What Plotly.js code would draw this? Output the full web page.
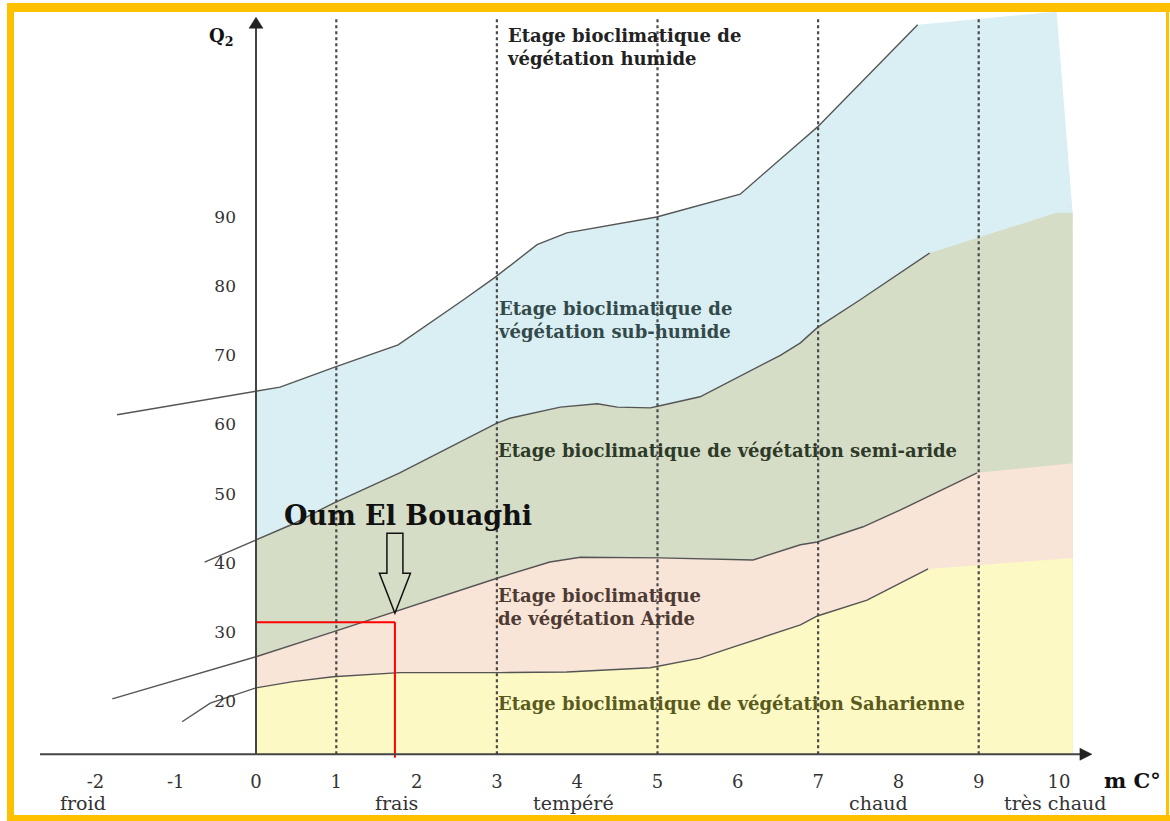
<!DOCTYPE html>
<html>
<head>
<meta charset="utf-8">
<script src="https://cdn.plot.ly/plotly-3.0.1.min.js"></script>
<style>
  html, body { margin: 0; padding: 0; background: #ffffff; }
  #chart { width: 1170px; height: 821px; }
</style>
</head>
<body>
<div id="chart"></div>
<script>
// ---------- DATA ----------
const mTicks = [-2, -1, 0, 1, 2, 3, 4, 5, 6, 7, 8, 9, 10];
const q2Ticks = [20, 30, 40, 50, 60, 70, 80, 90];
const thermalLimits = [1, 3, 5, 7, 9];
const thermalClasses = ['froid', 'frais', 'tempéré', 'chaud', 'très chaud'];
const thermalClassM = [-2.15, 1.75, 3.95, 7.75, 9.95];

// Limit humide / sub-humide
const humideM  = [-1.73, 0, 0.30, 0.98, 1.77, 2.58, 2.98, 3.50, 3.87, 4.99, 6.03, 6.78, 6.99, 8.24];
const humideQ2 = [61.4, 64.8, 65.4, 68.3, 71.5, 78.0, 81.3, 86.0, 87.7, 90.0, 93.3, 100.9, 103.0, 117.8];
// Limit sub-humide / semi-aride
const subHumideM  = [-0.64, 0, 0.46, 0.96, 1.79, 3.00, 3.16, 3.79, 4.25, 4.50, 4.91, 5.03, 5.53, 6.53, 6.78, 6.99, 7.52, 8.39];
const subHumideQ2 = [40.1, 43.3, 45.6, 48.6, 53.0, 60.2, 60.9, 62.5, 63.0, 62.5, 62.4, 62.7, 64.0, 70.0, 71.8, 74.0, 78.0, 84.8];
// Limit semi-aride / aride
const semiAridM  = [-1.79, 0, 0.96, 1.72, 3.04, 3.66, 4.04, 5.03, 6.19, 6.78, 6.99, 7.56, 8.02, 8.98];
const semiAridQ2 = [20.3, 26.4, 30.0, 32.9, 37.9, 40.1, 40.8, 40.7, 40.4, 42.6, 43.0, 45.2, 47.6, 53.0];
// Limit aride / saharien
const aridM  = [-0.92, -0.57, 0, 0.46, 0.96, 1.79, 3.04, 3.87, 4.91, 5.53, 5.94, 6.78, 6.99, 7.61, 8.37];
const aridQ2 = [17.0, 19.7, 21.9, 22.8, 23.5, 24.1, 24.1, 24.2, 24.8, 26.2, 27.8, 31.0, 32.3, 34.6, 39.1];

// Zone edges beyond the drawn limits (towards the right border of the diagram)
const zoneEndM = 10.17;
const zoneBaseQ2 = 12.3;
const humideEdgeM = [9.97, 10.17], humideEdgeQ2 = [119.7, 90.6];
const subHumideEdgeM = [9.97, 10.17], subHumideEdgeQ2 = [90.6, 90.6];
const semiAridEdgeM = [10.17], semiAridEdgeQ2 = [54.4];
const aridEdgeM = [10.17], aridEdgeQ2 = [40.7];

const zoneNames = [
  'Etage bioclimatique de<br>végétation humide',
  'Etage bioclimatique de<br>végétation sub-humide',
  'Etage bioclimatique de végétation semi-aride',
  'Etage bioclimatique<br>de végétation Aride',
  'Etage bioclimatique de végétation Saharienne'
];
const zoneLabelM  = [3.10, 2.99, 2.99, 2.99, 2.99];
const zoneLabelQ2 = [114.6, 75.1, 56.2, 33.6, 19.6];

const stationName = 'Oum El Bouaghi';
const stationM = 1.73;
const stationQ2 = 31.4;

// axis extents
const mAxisStart = -2.69, mAxisEnd = 10.41, q2AxisEnd = 118.9;

// ---------- LAYOUT GEOMETRY ----------
const W = 1170, H = 821;
const xr = [-256 / 80.3, (W - 256) / 80.3];
const yr = [20 - 120 / 6.914, 20 + 701 / 6.914];
const serif = 'DejaVu Serif, serif';

function zonePoly(m, q, em, eq, color) {
  const xs = [0], ys = [zoneBaseQ2];
  for (let i = 0; i < m.length; i++) if (m[i] >= 0) { xs.push(m[i]); ys.push(q[i]); }
  xs.push(...em); ys.push(...eq);
  xs.push(zoneEndM, 0); ys.push(zoneBaseQ2, zoneBaseQ2);
  return { x: xs, y: ys, type: 'scatter', mode: 'lines', fill: 'toself',
           fillcolor: color, line: { width: 0, color: color }, hoverinfo: 'skip', showlegend: false };
}
function limitLine(m, q) {
  return { x: m, y: q, type: 'scatter', mode: 'lines',
           line: { color: '#555555', width: 1.4 }, hoverinfo: 'skip', showlegend: false };
}

const traces = [
  zonePoly(humideM, humideQ2, humideEdgeM, humideEdgeQ2, '#d9eff3'),
  zonePoly(subHumideM, subHumideQ2, subHumideEdgeM, subHumideEdgeQ2, '#d6ddc7'),
  zonePoly(semiAridM, semiAridQ2, semiAridEdgeM, semiAridEdgeQ2, '#f9e4d8'),
  zonePoly(aridM, aridQ2, aridEdgeM, aridEdgeQ2, '#fcf9c4'),
  limitLine(humideM, humideQ2),
  limitLine(subHumideM, subHumideQ2),
  limitLine(semiAridM, semiAridQ2),
  limitLine(aridM, aridQ2),
  { x: [0, stationM], y: [stationQ2, stationQ2], type: 'scatter', mode: 'lines',
    line: { color: '#ff0000', width: 2 }, hoverinfo: 'skip', showlegend: false },
  { x: [stationM, stationM], y: [stationQ2, zoneBaseQ2 - 0.5], type: 'scatter', mode: 'lines',
    line: { color: '#ff0000', width: 2 }, hoverinfo: 'skip', showlegend: false }
];

const shapes = [];
thermalLimits.forEach(v => shapes.push({
  type: 'line', xref: 'x', yref: 'y', x0: v, x1: v, y0: zoneBaseQ2, y1: q2AxisEnd,
  line: { color: '#4a4a4a', width: 2.2, dash: 'dot' }, layer: 'above'
}));
// axes with arrowheads
shapes.push({ type: 'line', xref: 'x', yref: 'y', x0: 0, x1: 0, y0: zoneBaseQ2, y1: q2AxisEnd - 1,
  line: { color: '#444444', width: 2 } });
shapes.push({ type: 'path', xref: 'x', yref: 'y', xsizemode: 'pixel', ysizemode: 'pixel',
  xanchor: 0, yanchor: q2AxisEnd, path: 'M 0 0 L -7 -11 L 7 -11 Z',
  fillcolor: '#222222', line: { color: '#222222', width: 0.5 } });
shapes.push({ type: 'line', xref: 'x', yref: 'y', x0: mAxisStart, x1: mAxisEnd - 0.1, y0: zoneBaseQ2, y1: zoneBaseQ2,
  line: { color: '#444444', width: 2 } });
shapes.push({ type: 'path', xref: 'x', yref: 'y', xsizemode: 'pixel', ysizemode: 'pixel',
  xanchor: mAxisEnd, yanchor: zoneBaseQ2, path: 'M 0 0 L -12 6 L -12 -6 Z',
  fillcolor: '#222222', line: { color: '#222222', width: 0.5 } });
// hollow block arrow pointing to the station
shapes.push({
  type: 'path', xref: 'x', yref: 'y', xsizemode: 'pixel', ysizemode: 'pixel',
  xanchor: stationM, yanchor: stationQ2,
  path: 'M 0 9 L -15.5 49 L -8 49 L -8 89 L 8 89 L 8 49 L 15.5 49 Z',
  line: { color: '#111111', width: 1.5 }, fillcolor: 'rgba(0,0,0,0)'
});
// orange frame
const fc = '#ffc000';
const px = v => v / W, py = v => 1 - v / H;
shapes.push({ type: 'rect', xref: 'paper', yref: 'paper', x0: px(7), x1: px(W), y0: py(12), y1: py(3), fillcolor: fc, line: { width: 0 } });
shapes.push({ type: 'rect', xref: 'paper', yref: 'paper', x0: px(7), x1: px(14), y0: py(H), y1: py(3), fillcolor: fc, line: { width: 0 } });
shapes.push({ type: 'rect', xref: 'paper', yref: 'paper', x0: px(7), x1: px(W), y0: py(H), y1: py(815), fillcolor: fc, line: { width: 0 } });
shapes.push({ type: 'rect', xref: 'paper', yref: 'paper', x0: px(1166), x1: px(1169), y0: py(H), y1: py(3), fillcolor: fc, line: { width: 0 } });

const annotations = [];
const zoneColors = ['#222222', '#34494a', '#2e3a28', '#4d3b33', '#5a5a1e'];
zoneNames.forEach((t, i) => annotations.push({
  x: zoneLabelM[i], y: zoneLabelQ2[i], xref: 'x', yref: 'y', xanchor: 'left', yanchor: 'middle', align: 'left',
  text: '<b>' + t + '</b>', showarrow: false, font: { family: serif, size: 18, color: zoneColors[i] }
}));
thermalClasses.forEach((t, i) => annotations.push({
  x: thermalClassM[i], y: 5.25, xref: 'x', yref: 'y', xanchor: 'center', yanchor: 'middle',
  text: t, showarrow: false, font: { family: serif, size: 19, color: '#333333' }
}));
annotations.push({ x: stationM, y: stationQ2, xref: 'x', yref: 'y', xanchor: 'center', yanchor: 'middle',
  xshift: 13, yshift: 107, text: '<b>' + stationName + '</b>', showarrow: false,
  font: { family: serif, size: 27, color: '#111111' } });
annotations.push({ x: -0.436, y: 116.0, xref: 'x', yref: 'y', xanchor: 'center', yanchor: 'middle',
  text: '<b>Q<sub>2</sub></b>', showarrow: false, font: { family: serif, size: 18, color: '#111111' } });
annotations.push({ x: 10.535, y: 8.57, xref: 'x', yref: 'y', xanchor: 'left', yanchor: 'middle',
  text: '<b>m C°</b>', showarrow: false, font: { family: serif, size: 21, color: '#111111' } });

const layout = {
  width: W, height: H,
  margin: { l: 0, r: 0, t: 0, b: 0 },
  paper_bgcolor: '#ffffff', plot_bgcolor: '#ffffff',
  showlegend: false,
  xaxis: {
    range: xr, showgrid: false, zeroline: false, showline: false,
    tickmode: 'array', tickvals: mTicks, ticktext: mTicks.map(String),
    ticks: '', ticklabelstandoff: 15,
    tickfont: { family: serif, size: 18, color: '#333333' },
    anchor: 'free', position: (zoneBaseQ2 - yr[0]) / (yr[1] - yr[0]), fixedrange: true
  },
  yaxis: {
    range: yr, showgrid: false, zeroline: false, showline: false,
    tickmode: 'array', tickvals: q2Ticks, ticktext: q2Ticks.map(String),
    ticks: '', ticklabelstandoff: 20,
    tickfont: { family: serif, size: 17, color: '#333333' },
    anchor: 'free', position: (0 - xr[0]) / (xr[1] - xr[0]), fixedrange: true
  },
  shapes: shapes,
  annotations: annotations
};

Plotly.newPlot('chart', traces, layout, { displayModeBar: false, staticPlot: true });
</script>
</body>
</html>
